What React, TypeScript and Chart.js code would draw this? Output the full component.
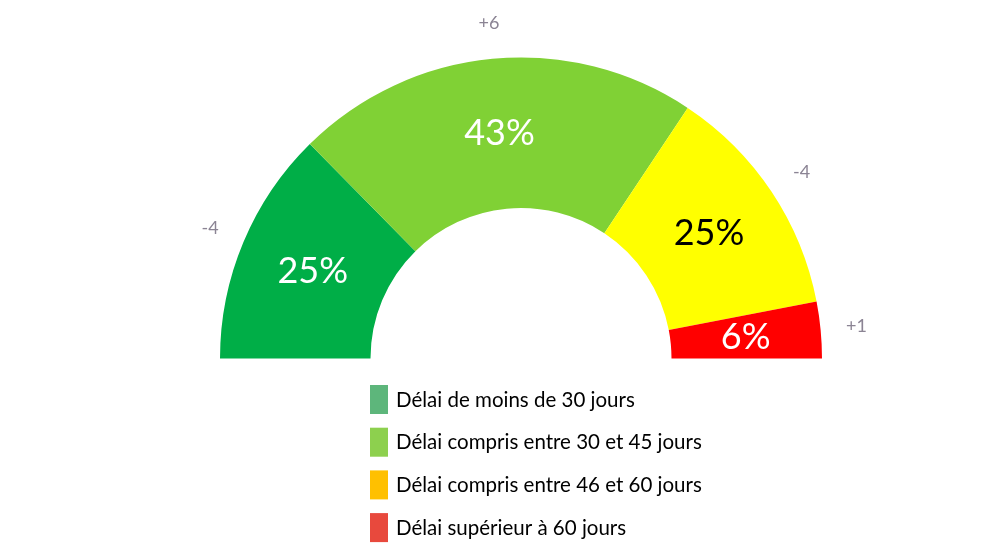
import React, { useEffect, useRef } from "react";
import { Chart, registerables } from "chart.js";

Chart.register(...registerables);

const categories = [
  "Délai de moins de 30 jours",
  "Délai compris entre 30 et 45 jours",
  "Délai compris entre 46 et 60 jours",
  "Délai supérieur à 60 jours",
];
const percentValues = [25, 43, 25, 6];
const changeLabels = ["-4", "+6", "-4", "+1"];
const sliceColors = ["#00ae47", "#80d135", "#ffff00", "#ff0000"];
const legendColors = ["#5db67b", "#8dd04e", "#ffc000", "#e8493d"];
const percentTextColors = ["#ffffff", "#ffffff", "#000000", "#ffffff"];

const FONT = "Lato, 'Open Sans', sans-serif";

const labelsPlugin = {
  id: "gaugeLabels",
  afterDatasetsDraw(chart: any) {
    const ctx = chart.ctx;
    const meta = chart.getDatasetMeta(0);
    ctx.save();
    meta.data.forEach((arc: any, i: number) => {
      const { x, y, startAngle, endAngle, innerRadius, outerRadius } = arc.getProps(
        ["x", "y", "startAngle", "endAngle", "innerRadius", "outerRadius"],
        true
      );
      const mid = (startAngle + endAngle) / 2;
      const rMid = (innerRadius + outerRadius) / 2;
      ctx.textAlign = "center";
      ctx.textBaseline = "middle";
      ctx.font = `36px ${FONT}`;
      ctx.fillStyle = percentTextColors[i];
      ctx.fillText(percentValues[i] + "%", x + Math.cos(mid) * rMid, y + Math.sin(mid) * rMid);
      const rOut = outerRadius + 36;
      ctx.font = `18px ${FONT}`;
      ctx.fillStyle = "#8b8494";
      ctx.fillText(changeLabels[i], x + Math.cos(mid) * rOut, y + Math.sin(mid) * rOut);
    });
    ctx.restore();
  },
};

const legendPlugin = {
  id: "stackLegend",
  afterDraw(chart: any) {
    const ctx = chart.ctx;
    ctx.save();
    const left = 370;
    const top = 385;
    const step = 42.7;
    categories.forEach((c, i) => {
      const y = top + i * step;
      ctx.fillStyle = legendColors[i];
      ctx.fillRect(left, y, 18, 29);
      ctx.fillStyle = "#000000";
      ctx.font = `20.5px ${FONT}`;
      ctx.textAlign = "left";
      ctx.textBaseline = "middle";
      ctx.fillText(c, left + 26, y + 15);
    });
    ctx.restore();
  },
};

export default function App() {
  const ref = useRef<HTMLCanvasElement | null>(null);
  useEffect(() => {
    document.body.style.margin = "0";
    const chart = new Chart(ref.current as HTMLCanvasElement, {
      type: "doughnut",
      data: {
        labels: categories,
        datasets: [
          {
            data: percentValues,
            backgroundColor: sliceColors,
            borderWidth: 0,
          },
        ],
      },
      options: {
        animation: false,
        responsive: false,
        rotation: -90,
        circumference: 180,
        cutout: "50%",
        layout: { padding: { top: 57, bottom: 201, left: 220, right: 166 } },
        plugins: {
          legend: { display: false },
          tooltip: { enabled: false },
        },
      },
      plugins: [labelsPlugin, legendPlugin],
    });
    return () => chart.destroy();
  }, []);
  return (
    <div style={{ width: 988, height: 560, background: "#fff" }}>
      <canvas ref={ref} width={988} height={560} />
    </div>
  );
}
